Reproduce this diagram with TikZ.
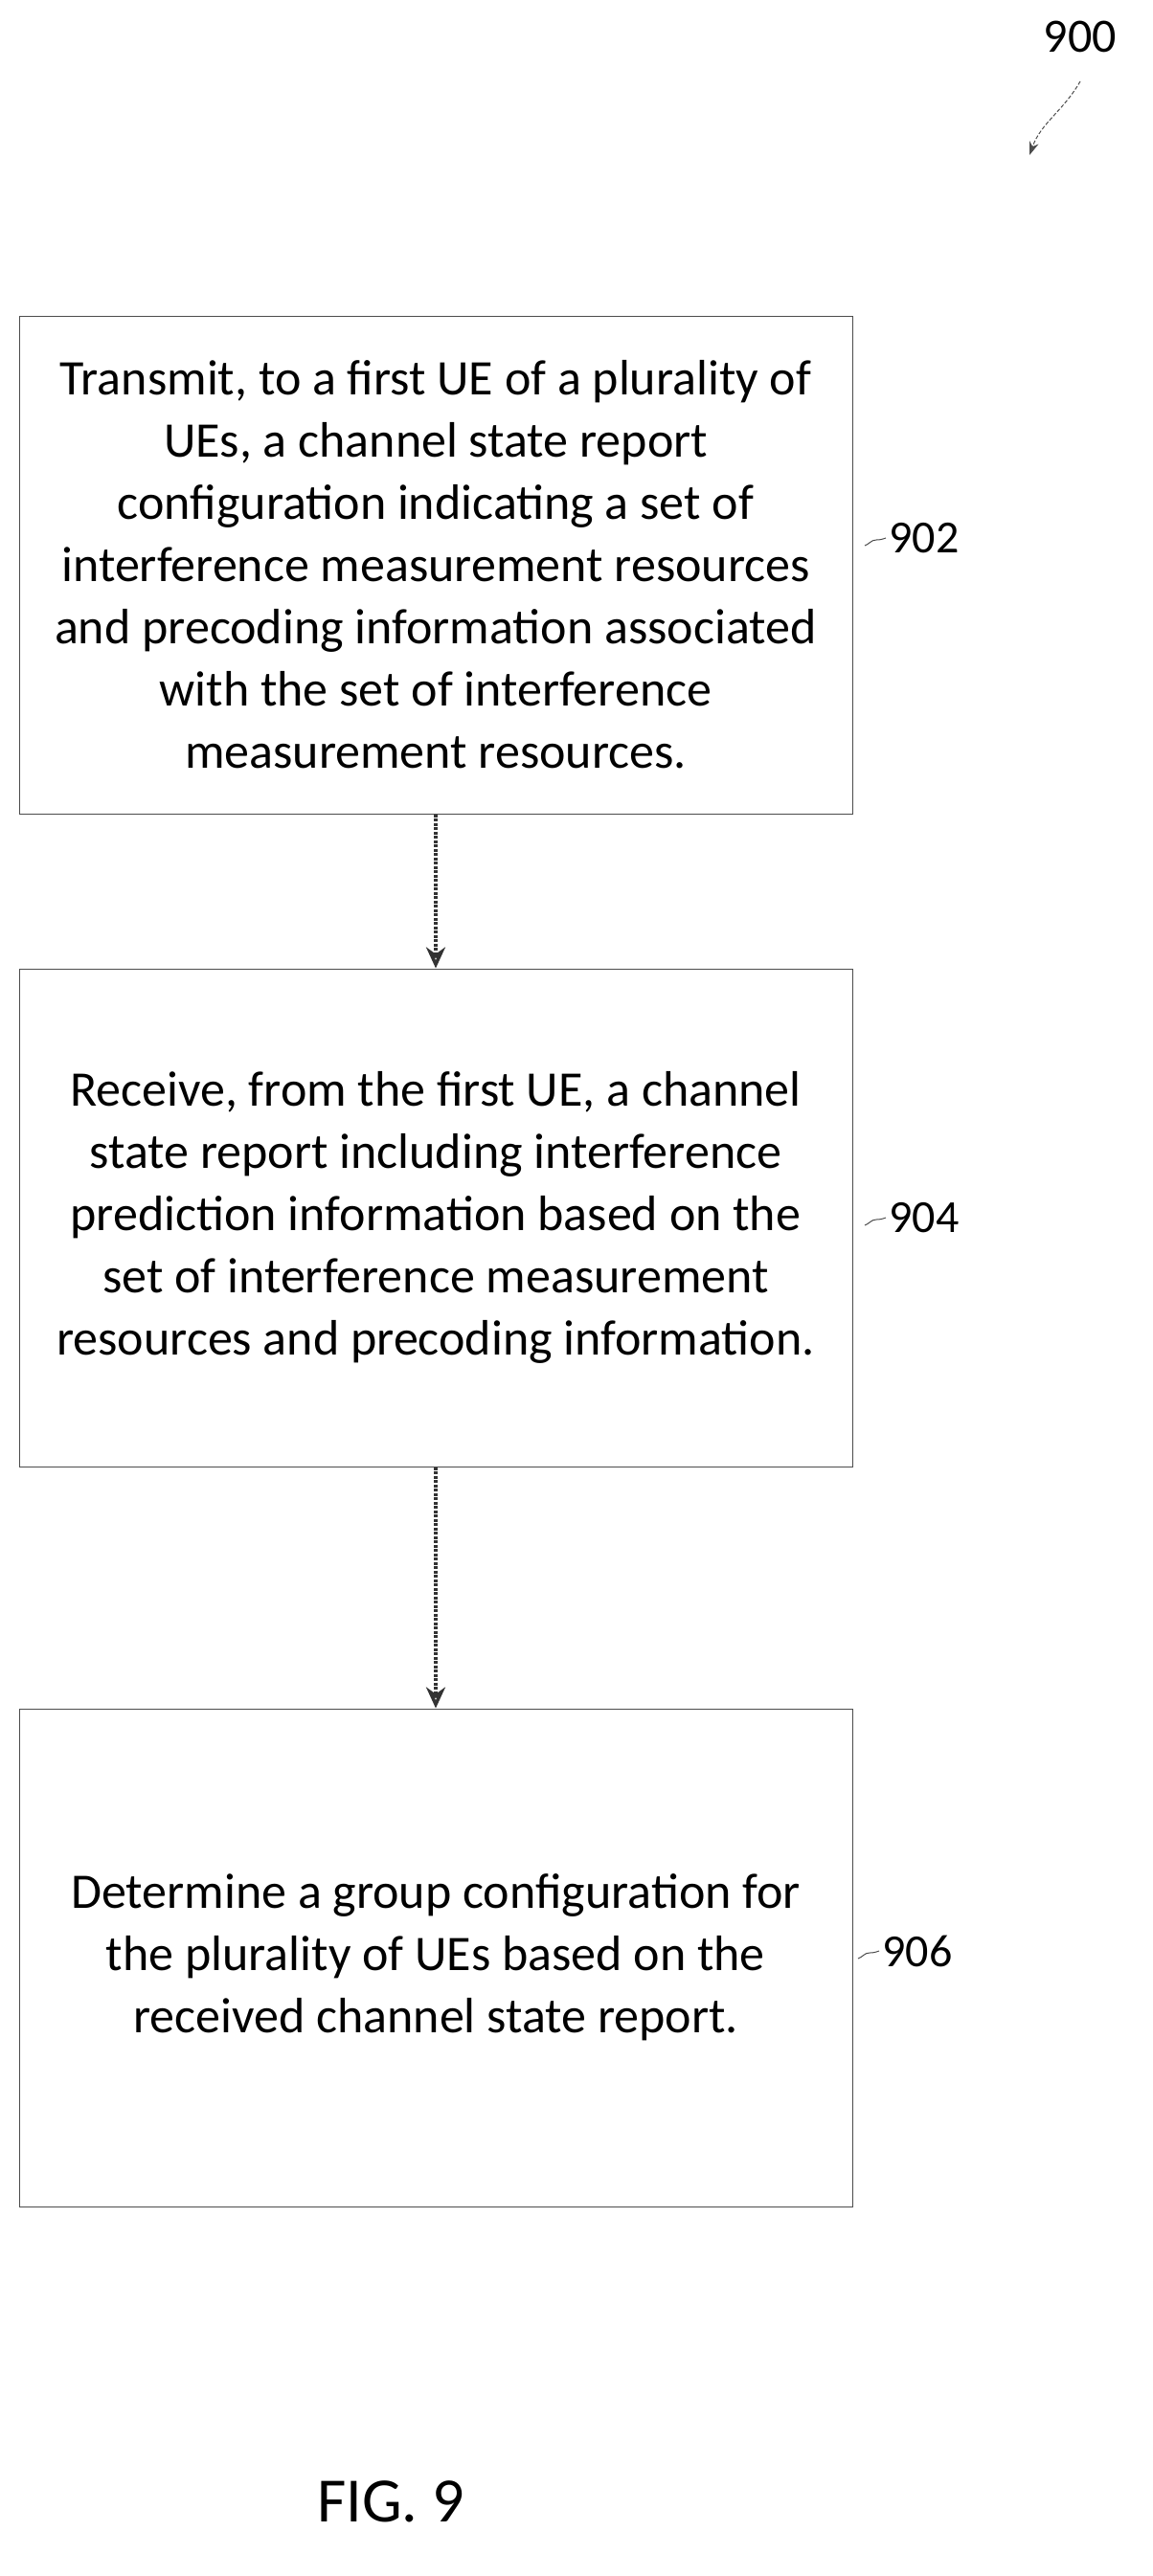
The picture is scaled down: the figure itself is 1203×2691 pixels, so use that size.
\documentclass[tikz,border=0pt]{standalone}
\usepackage{fontspec}
\setmainfont{Carlito}
\usetikzlibrary{arrows.meta}
\begin{document}
\begin{tikzpicture}[x=1pt,y=-1pt,
  box/.style={draw=black!70,line width=1pt,minimum width=870pt,minimum height=520pt,align=center,font=\fontsize{52}{65}\selectfont,inner sep=0pt},
  arr/.style={draw=black!80,line width=3.5pt,dash pattern=on 3pt off 1.5pt,-{Stealth[length=22pt,width=20pt,open]}},
  lbl/.style={font=\fontsize{48}{50}\selectfont,anchor=west},
  sq/.style={draw=black!70,line width=1pt}]
\useasboundingbox (0,0) rectangle (1203,2691);
\node[box] (b1) at (455,590) {Transmit, to a first UE of a plurality of\\UEs, a channel state report\\configuration indicating a set of\\interference measurement resources\\and precoding information associated\\with the set of interference\\measurement resources.};
\node[box] (b2) at (455,1272) {Receive, from the first UE, a channel\\state report including interference\\prediction information based on the\\set of interference measurement\\resources and precoding information.};
\node[box] (b3) at (455,2045) {Determine a group configuration for\\the plurality of UEs based on the\\received channel state report.};
\draw[arr] (b1.south) -- (b2.north);
\draw[arr] (b2.south) -- (b3.north);
\node[lbl] (l1) at (925,562) {902};
\node[lbl] (l2) at (925,1272) {904};
\node[lbl] (l3) at (918,2038) {906};
\draw[sq] (l1.west) to[out=200,in=0] ++(-10,2) to[out=180,in=20] ++(-12,6);
\draw[sq] (l2.west) to[out=200,in=0] ++(-10,2) to[out=180,in=20] ++(-12,6);
\draw[sq] (l3.west) to[out=200,in=0] ++(-10,2) to[out=180,in=20] ++(-12,6);
\node[font=\fontsize{50}{52}\selectfont] (n900) at (1128,38) {900};
\coordinate (a900) at (1075,162);
\draw[draw=black!70,line width=1pt,dash pattern=on 4pt off 2pt,-{Stealth[length=14pt,width=10pt]}] (1128,85) to[out=240,in=70] (a900);
\node[font=\fontsize{66}{70}\selectfont] (fig) at (408,2613) {FIG. 9};
\end{tikzpicture}
\end{document}
